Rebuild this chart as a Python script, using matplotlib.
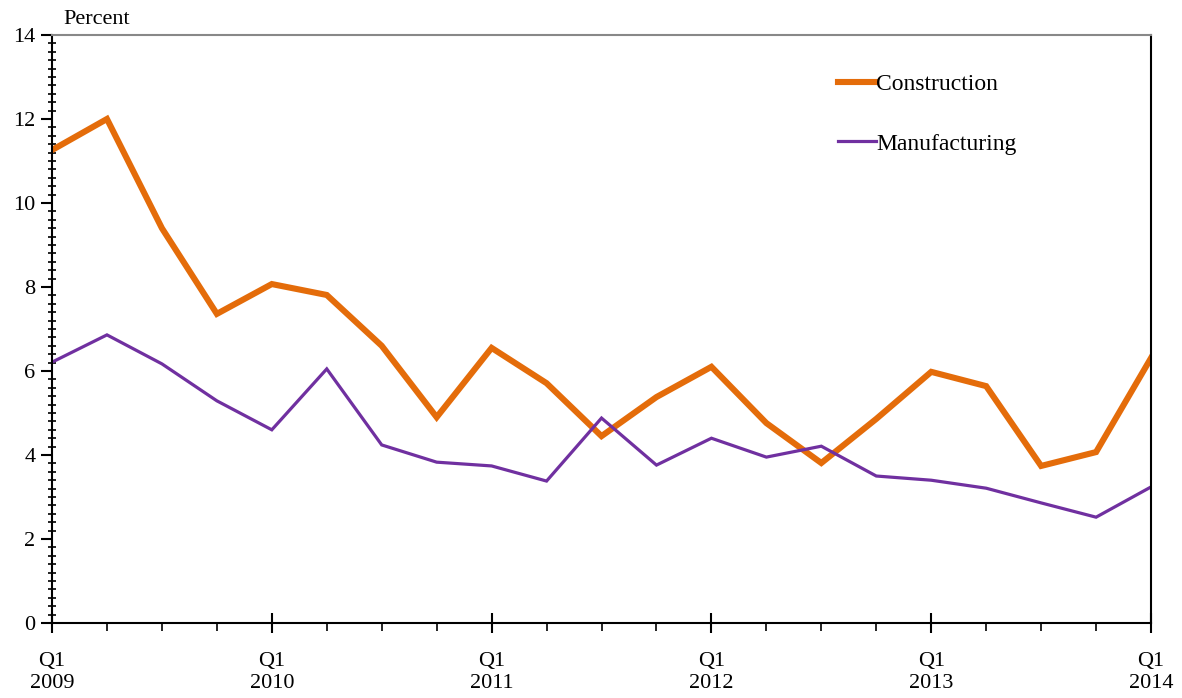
import numpy as np
import matplotlib.pyplot as plt
from matplotlib.ticker import MultipleLocator

plt.rcParams["font.family"] = ["Liberation Serif", "DejaVu Serif"]
plt.rcParams["font.size"] = 16

quarters = np.arange(21)
tick_labels = ["Q1\n2009", "Q1\n2010", "Q1\n2011", "Q1\n2012", "Q1\n2013", "Q1\n2014"]

construction = [11.26, 12.0, 9.40, 7.36, 8.07, 7.81, 6.60, 4.90, 6.55, 5.71, 4.45,
                5.38, 6.10, 4.76, 3.81, 4.86, 5.98, 5.64, 3.74, 4.07, 6.31]
manufacturing = [6.21, 6.86, 6.17, 5.29, 4.60, 6.05, 4.24, 3.83, 3.74, 3.38, 4.88,
                 3.76, 4.40, 3.95, 4.21, 3.50, 3.40, 3.21, 2.86, 2.52, 3.24]

fig = plt.figure(figsize=(11.82, 6.98), dpi=100)
ax = fig.add_axes([0.044, 0.1074, 0.9298, 0.8425])

ax.plot(quarters, construction, color="#E46C0A", linewidth=4.4,
        label="Construction", solid_joinstyle="miter")
ax.plot(quarters, manufacturing, color="#7030A0", linewidth=2.3,
        label="Manufacturing", solid_joinstyle="miter")

ax.set_xlim(0, 20)
ax.set_ylim(0, 14)
ax.yaxis.set_major_locator(MultipleLocator(2))
ax.yaxis.set_minor_locator(MultipleLocator(0.2))
ax.set_xticks(np.arange(0, 21, 4))
ax.set_xticklabels(tick_labels, linespacing=1.2)
ax.xaxis.set_minor_locator(MultipleLocator(1))

ax.tick_params(axis="y", which="major", direction="out", length=8, width=1.5, pad=4)
ax.tick_params(axis="y", which="minor", direction="inout", length=6, width=1.2)
ax.tick_params(axis="x", which="major", direction="inout", length=14, width=1.5, pad=14)
ax.tick_params(axis="x", which="minor", direction="out", length=6, width=1.2)

for side in ["left", "bottom", "right"]:
    ax.spines[side].set_linewidth(1.5)
    ax.spines[side].set_color("black")
ax.spines["top"].set_color("#888888")
ax.spines["top"].set_linewidth(1.5)

ax.text(0.01, 1.01, "Percent", transform=ax.transAxes, ha="left", va="bottom")

ax.legend(loc="upper right", bbox_to_anchor=(0.897, 0.97), frameon=False,
          handlelength=1.6, handletextpad=0.0, labelspacing=1.6, fontsize=17)

fig.savefig("out.png", dpi=100)
